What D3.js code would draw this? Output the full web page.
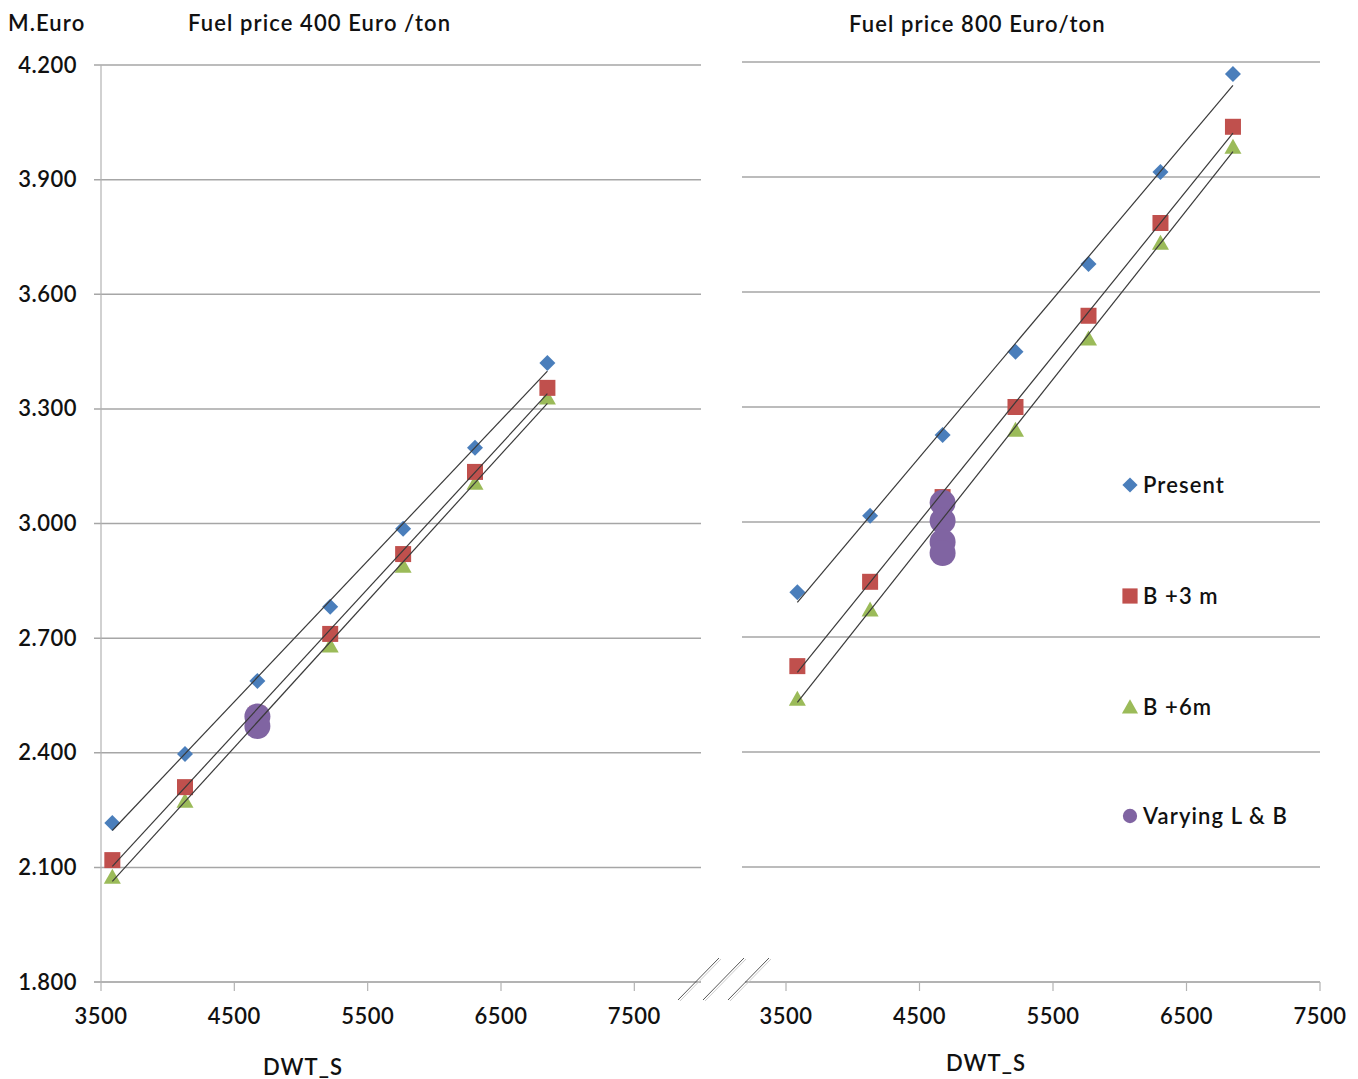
<!DOCTYPE html>
<html>
<head>
<meta charset="utf-8">
<script src="https://cdn.jsdelivr.net/npm/d3@7"></script>
<style>
  html, body { margin: 0; padding: 0; background: #fff; }
  svg { display: block; }
  text { font-family: Lato, "Open Sans", sans-serif; fill: #111; font-weight: 600; }
  text.lbl { letter-spacing: 1.1px; }
  text.num { letter-spacing: 0.5px; }
</style>
</head>
<body>
<svg id="chart" width="1358" height="1079"></svg>
<script>
// ---- data ----
const dwt = [3585, 4130, 4673, 5219, 5766, 6305, 6848];
const present400 = [2.216, 2.397, 2.588, 2.782, 2.986, 3.198, 3.420];
const b3m400     = [2.119, 2.310, 2.502, 2.711, 2.920, 3.135, 3.355];
const b6m400     = [2.075, 2.274, 2.473, 2.680, 2.889, 3.106, 3.329];
const varyingX400 = [4673, 4673];
const varying400  = [2.495, 2.470];

const present800 = [2.817, 3.016, 3.227, 3.444, 3.673, 3.913, 4.169];
const b3m800     = [2.624, 2.844, 3.065, 3.300, 3.538, 3.780, 4.031];
const b6m800     = [2.538, 2.771, 3.005, 3.240, 3.478, 3.728, 3.978];
const varyingX800 = [4673, 4673, 4673, 4673];
const varying800  = [3.050, 3.003, 2.948, 2.919];

const yTicks = [1.8, 2.1, 2.4, 2.7, 3.0, 3.3, 3.6, 3.9, 4.2];
const xTicks = [3500, 4500, 5500, 6500, 7500];
const seriesNames = ["Present", "B +3 m", "B +6m", "Varying L & B"];
const titles = ["Fuel price 400 Euro /ton", "Fuel price 800 Euro/ton"];
const yTitle = "M.Euro";
const xTitle = "DWT_S";

// ---- styles ----
const colors = { present: "#4A7EBB", b3: "#C0504D", b6: "#9BBB59", vary: "#8064A2" };
const gridColor = "#a6a6a6";
const FS = 22;

const svg = d3.select("#chart");

const panels = [
  { x: d3.scaleLinear().domain([3500, 8000]).range([101, 701]),
    y: d3.scaleLinear().domain([1.8, 4.2]).range([982, 65]),
    gridX0: 94, gridX1: 701, axisX0: 94, yAxis: true,
    present: present400, b3: b3m400, b6: b6m400, vx: varyingX400, vy: varying400,
    title: titles[0], titleX: 188, titleY: 31, xTitleX: 263, xTitleY: 1075 },
  { x: d3.scaleLinear().domain([3500, 7500]).range([786, 1320]),
    y: d3.scaleLinear().domain([1.8, 4.2]).range([982, 62]),
    gridX0: 742, gridX1: 1320, axisX0: 745, yAxis: false,
    present: present800, b3: b3m800, b6: b6m800, vx: varyingX800, vy: varying800,
    title: titles[1], titleX: 849, titleY: 32, xTitleX: 946, xTitleY: 1071 }
];

function regression(xs, ys) {
  const n = xs.length;
  const mx = d3.mean(xs), my = d3.mean(ys);
  let sxy = 0, sxx = 0;
  for (let i = 0; i < n; i++) { sxy += (xs[i]-mx)*(ys[i]-my); sxx += (xs[i]-mx)**2; }
  const b = sxy / sxx, a = my - b*mx;
  const x0 = d3.min(xs), x1 = d3.max(xs);
  return [[x0, a + b*x0], [x1, a + b*x1]];
}

function drawMarker(g, type, cx, cy, scale) {
  const s = scale || 1;
  if (type === "present") {
    const r = 8 * s;
    g.append("path").attr("d", `M${cx},${cy-r}L${cx+r},${cy}L${cx},${cy+r}L${cx-r},${cy}Z`)
      .attr("fill", colors.present);
  } else if (type === "b3") {
    const h = 8 * s;
    g.append("rect").attr("x", cx-h).attr("y", cy-h).attr("width", 2*h).attr("height", 2*h)
      .attr("fill", colors.b3);
  } else if (type === "b6") {
    const w = 8.5 * s, h = 15 * s;
    g.append("path").attr("d", `M${cx},${cy-h*0.55}L${cx+w},${cy+h*0.45}L${cx-w},${cy+h*0.45}Z`)
      .attr("fill", colors.b6);
  } else {
    g.append("circle").attr("cx", cx).attr("cy", cy).attr("r", 13 * s).attr("fill", colors.vary);
  }
}

panels.forEach(p => {
  const g = svg.append("g");
  // gridlines
  g.selectAll("line.grid").data(yTicks.slice(1)).join("line")
    .attr("x1", p.gridX0).attr("x2", p.gridX1)
    .attr("y1", d => p.y(d)).attr("y2", d => p.y(d))
    .attr("stroke", gridColor).attr("stroke-width", 1.5);
  // x axis line
  g.append("line").attr("x1", p.axisX0).attr("x2", p.gridX1)
    .attr("y1", p.y(1.8)).attr("y2", p.y(1.8))
    .attr("stroke", "#b3b3b3").attr("stroke-width", 2);
  // x ticks
  g.selectAll("line.xt").data(xTicks).join("line")
    .attr("x1", d => p.x(d)).attr("x2", d => p.x(d))
    .attr("y1", p.y(1.8)).attr("y2", p.y(1.8) + 9)
    .attr("stroke", "#b3b3b3").attr("stroke-width", 1.2);
  g.selectAll("text.xl").data(xTicks).join("text")
    .attr("class", "num")
    .attr("x", d => p.x(d)).attr("y", 1024)
    .attr("text-anchor", "middle").attr("font-size", FS)
    .text(d => d);
  if (p.yAxis) {
    g.append("line").attr("x1", p.x(3500)).attr("x2", p.x(3500))
      .attr("y1", p.y(4.2)).attr("y2", p.y(1.8))
      .attr("stroke", "#b3b3b3").attr("stroke-width", 1.2);
    g.selectAll("text.yl").data(yTicks).join("text")
      .attr("class", "num")
      .attr("x", 77).attr("y", d => p.y(d) + 7.5)
      .attr("text-anchor", "end").attr("font-size", FS)
      .text(d => d3.format(".3f")(d));
  }
  // markers
  const mg = g.append("g");
  dwt.forEach((x, i) => drawMarker(mg, "b6", p.x(x), p.y(p.b6[i])));
  dwt.forEach((x, i) => drawMarker(mg, "b3", p.x(x), p.y(p.b3[i])));
  dwt.forEach((x, i) => drawMarker(mg, "present", p.x(x), p.y(p.present[i])));
  p.vx.forEach((x, i) => drawMarker(mg, "vary", p.x(x), p.y(p.vy[i])));
  // trendlines
  [p.present, p.b3, p.b6].forEach(ys => {
    const seg = regression(dwt, ys);
    g.append("line")
      .attr("x1", p.x(seg[0][0])).attr("y1", p.y(seg[0][1]))
      .attr("x2", p.x(seg[1][0])).attr("y2", p.y(seg[1][1]))
      .attr("stroke", "#3a3a3a").attr("stroke-width", 1.2);
  });
  // titles
  g.append("text").attr("class", "lbl").attr("x", p.titleX).attr("y", p.titleY).attr("font-size", FS).text(p.title);
  g.append("text").attr("class", "lbl").attr("x", p.xTitleX).attr("y", p.xTitleY).attr("font-size", FS).text(xTitle);
});

svg.append("text").attr("class", "lbl").attr("x", 8).attr("y", 31).attr("font-size", FS).text(yTitle);

// axis break marks
const brk = svg.append("g").attr("stroke", "#555").attr("stroke-width", 1);
[0, 25, 50].forEach(dx => {
  brk.append("line").attr("x1", 678 + dx).attr("y1", 1000).attr("x2", 719 + dx).attr("y2", 958);
  brk.append("line").attr("x1", 680 + dx).attr("y1", 1001).attr("x2", 721 + dx).attr("y2", 959)
    .attr("stroke", "#ccc");
});

// legend
const legendTypes = ["present", "b3", "b6", "vary"];
const legendY = [485, 596, 707, 816];
const lg = svg.append("g");
legendTypes.forEach((t, i) => {
  drawMarker(lg, t, 1130, legendY[i], t === "vary" ? 0.55 : 0.95);
  lg.append("text").attr("class", "lbl").attr("x", 1143).attr("y", legendY[i] + 8)
    .attr("font-size", FS).text(seriesNames[i]);
});
</script>
</body>
</html>
